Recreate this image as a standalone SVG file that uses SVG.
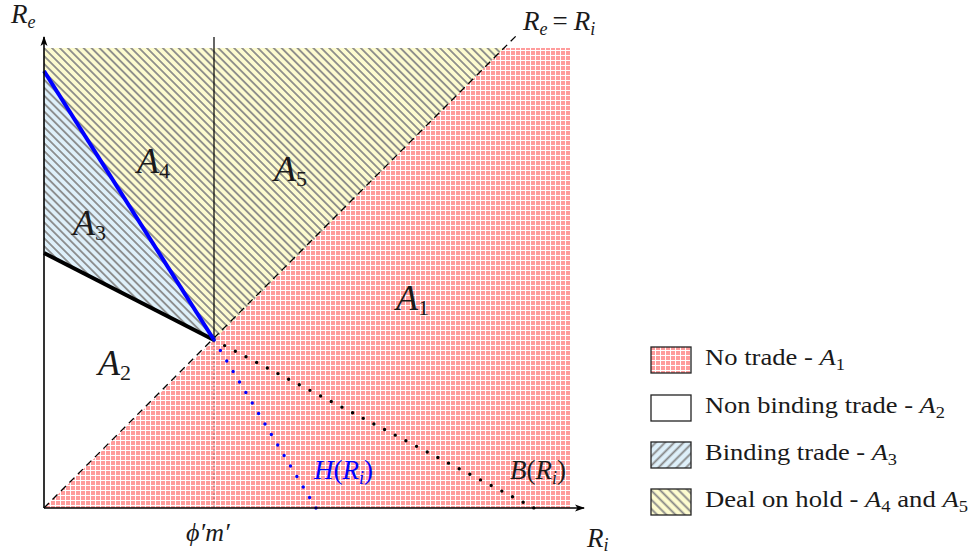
<svg xmlns="http://www.w3.org/2000/svg" width="974" height="559" viewBox="0 0 974 559">
<style>
.t{font-family:"Liberation Serif",serif;fill:#1a1a1a}
.m{font-family:"Liberation Serif",serif;font-style:italic;fill:#1a1a1a}
.hatch{stroke:#858585}
</style>
<defs>
<pattern id="grid" patternUnits="userSpaceOnUse" width="5" height="5">
<rect width="5" height="5" fill="#ff9c9c"/>
<path d="M0.5,0V5M0,0.5H5" stroke="#ffffff" stroke-width="1"/>
</pattern>
<pattern id="yhatch" patternUnits="userSpaceOnUse" width="5.6" height="10" patternTransform="rotate(-45)">
<rect width="5.6" height="10" fill="#fdfbcf"/>
<line class="hatch" x1="2.8" y1="0" x2="2.8" y2="10" stroke-width="1.7"/>
</pattern>
<pattern id="bhatch" patternUnits="userSpaceOnUse" width="5.6" height="10" patternTransform="rotate(-45)">
<rect width="5.6" height="10" fill="#def0fa"/>
<line class="hatch" x1="2.8" y1="0" x2="2.8" y2="10" stroke-width="1.7"/>
</pattern>
<pattern id="bhatchL" patternUnits="userSpaceOnUse" width="6.5" height="10" patternTransform="rotate(45)">
<rect width="6.5" height="10" fill="#def0fa"/>
<line class="hatch" x1="3.2" y1="0" x2="3.2" y2="10" stroke-width="1.8"/>
</pattern>
<pattern id="yhatchL" patternUnits="userSpaceOnUse" width="6.5" height="10" patternTransform="rotate(-45)">
<rect width="6.5" height="10" fill="#fdfbcf"/>
<line class="hatch" x1="3.2" y1="0" x2="3.2" y2="10" stroke-width="1.8"/>
</pattern>
<marker id="arr" markerWidth="12" markerHeight="10" refX="9" refY="5" orient="auto" markerUnits="userSpaceOnUse">
<path d="M0,1.5L10,5L0,8.5L2.5,5Z" fill="#000"/>
</marker>
</defs>

<g id="regions">
<g id="A1"><polygon points="44,508 504,48 570,48 570,508" fill="url(#grid)"/></g>
<g id="A2"><polygon points="44,508 214,340 44,253" fill="#ffffff"/></g>
<g id="A3"><polygon points="44,253 214,340 44,71" fill="url(#bhatch)"/></g>
<g id="A4"><polygon points="44,71 214,340 214,48 44,48" fill="url(#yhatch)"/></g>
<g id="A5"><polygon points="214,48 504,48 214,340" fill="url(#yhatch)"/></g>
</g>

<g id="connectors">
<line x1="44" y1="508" x2="518" y2="34" stroke="#000" stroke-width="1.3" stroke-dasharray="7,5"/>
<line x1="214" y1="37" x2="214" y2="340" stroke="#000" stroke-width="1.2"/>
<line x1="214" y1="342" x2="214" y2="508" stroke="#333" stroke-width="1.2" stroke-dasharray="0,4" stroke-linecap="round"/>
<line x1="44" y1="253" x2="214" y2="340" stroke="#000" stroke-width="4"/>
<line x1="44" y1="71" x2="214" y2="340" stroke="#0000ff" stroke-width="4"/>
<line x1="214" y1="340" x2="534" y2="508" stroke="#000" stroke-width="3.4" stroke-dasharray="0,12.04" stroke-linecap="round"/>
<line x1="214" y1="340" x2="316" y2="508" stroke="#0000ff" stroke-width="3.4" stroke-dasharray="0,12.28" stroke-linecap="round"/>
<line x1="44" y1="508" x2="44" y2="37" stroke="#000" stroke-width="1.6" marker-end="url(#arr)"/>
<line x1="44" y1="508" x2="584" y2="508" stroke="#000" stroke-width="1.6" marker-end="url(#arr)"/>
</g>

<g id="labels">
<text class="m" x="11" y="23" font-size="27">R<tspan dy="5" font-size="18">e</tspan></text>
<text class="m" x="523" y="30" font-size="27">R<tspan dy="5" font-size="18">e</tspan><tspan dy="-5" dx="5" font-style="normal">=</tspan><tspan dx="6">R</tspan><tspan dy="5" font-size="18">i</tspan></text>
<text class="m" x="396" y="310" font-size="36">A<tspan dy="5" font-size="22" font-style="normal">1</tspan></text>
<text class="m" x="98" y="375" font-size="36">A<tspan dy="5" font-size="22" font-style="normal">2</tspan></text>
<text class="m" x="73" y="235" font-size="36">A<tspan dy="5" font-size="22" font-style="normal">3</tspan></text>
<text class="m" x="137" y="173" font-size="36">A<tspan dy="5" font-size="22" font-style="normal">4</tspan></text>
<text class="m" x="274" y="181" font-size="36">A<tspan dy="5" font-size="22" font-style="normal">5</tspan></text>
<text class="m" x="314" y="479" font-size="27" style="fill:#0000ff">H<tspan font-style="normal">(</tspan>R<tspan dy="5" font-size="18">i</tspan><tspan dy="-5" font-style="normal">)</tspan></text>
<text class="m" x="510" y="479" font-size="27">B<tspan font-style="normal">(</tspan>R<tspan dy="5" font-size="18">i</tspan><tspan dy="-5" font-style="normal">)</tspan></text>
<text class="m" x="186" y="541" font-size="26">ϕ′m′</text>
<text class="m" x="587" y="547" font-size="27">R<tspan dy="4" font-size="18">i</tspan></text>
</g>

<g id="legend">
<g id="leg1"><rect x="651" y="347" width="40" height="26" fill="url(#grid)" stroke="#222" stroke-width="1.3"/>
<text class="t" x="705" y="365" font-size="23" textLength="140" lengthAdjust="spacingAndGlyphs">No trade - <tspan class="m">A</tspan><tspan dy="5" font-size="16">1</tspan></text></g>
<g id="leg2"><rect x="651" y="395" width="40" height="26" fill="#fff" stroke="#222" stroke-width="1.3"/>
<text class="t" x="705" y="413" font-size="23" textLength="240" lengthAdjust="spacingAndGlyphs">Non binding trade - <tspan class="m">A</tspan><tspan dy="5" font-size="16">2</tspan></text></g>
<g id="leg3"><rect x="651" y="442" width="40" height="26" fill="url(#bhatchL)" stroke="#222" stroke-width="1.3"/>
<text class="t" x="705" y="460" font-size="23" textLength="192" lengthAdjust="spacingAndGlyphs">Binding trade - <tspan class="m">A</tspan><tspan dy="5" font-size="16">3</tspan></text></g>
<g id="leg4"><rect x="651" y="489" width="40" height="26" fill="url(#yhatchL)" stroke="#222" stroke-width="1.3"/>
<text class="t" x="705" y="507" font-size="23" textLength="263" lengthAdjust="spacingAndGlyphs">Deal on hold - <tspan class="m">A</tspan><tspan dy="5" font-size="16">4</tspan><tspan dy="-5"> and </tspan><tspan class="m">A</tspan><tspan dy="5" font-size="16">5</tspan></text></g>
</g>
</svg>
